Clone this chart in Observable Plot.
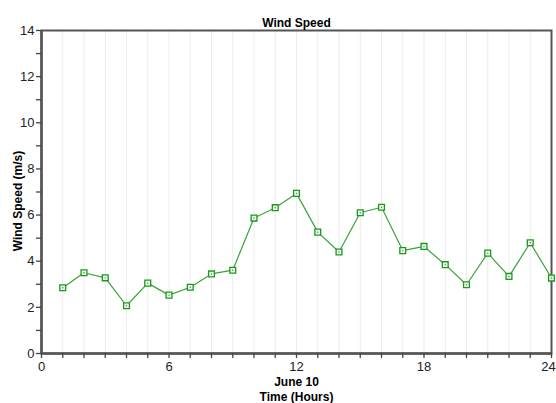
<!DOCTYPE html>
<html><head><meta charset="utf-8">
<script src="https://cdn.jsdelivr.net/npm/d3@7"></script>
<script src="https://cdn.jsdelivr.net/npm/@observablehq/plot@0.6"></script>
<style>body{margin:0;background:#fff} svg{display:block}</style>
</head><body><div id="chart"></div>
<script>
const hours = [1,2,3,4,5,6,7,8,9,10,11,12,13,14,15,16,17,18,19,20,21,22,23,24];
const windSpeed = [2.85,3.5,3.28,2.07,3.05,2.53,2.87,3.45,3.61,5.87,6.32,6.94,5.26,4.4,6.1,6.34,4.46,4.64,3.85,2.98,4.35,3.34,4.8,3.27];
const hourTicks = [0,1,2,3,4,5,6,7,8,9,10,11,12,13,14,15,16,17,18,19,20,21,22,23,24];
const xTickLabels = [0,6,12,18];
const xLastTickLabel = [24];
const yTicksAll = [0,1,2,3,4,5,6,7,8,9,10,11,12,13,14];
const yTickLabels = [0,2,4,6,8,10,12,14];
const titleText = "Wind Speed";
const yLabel = "Wind Speed (m/s)";
const xLabel1 = "June 10";
const xLabel2 = "Time (Hours)";

const data = hours.map((h, i) => ({hour: h, speed: windSpeed[i]}));

const chart = Plot.plot({
  width: 556, height: 403,
  marginTop: 30, marginBottom: 50, marginLeft: 41, marginRight: 5,
  style: {fontFamily: "Arial, 'Liberation Sans', sans-serif", fontSize: "12px", color: "#222", background: "#fff"},
  x: {domain: [0, 24]},
  y: {domain: [0, 14]},
  marks: [
    Plot.ruleX(hourTicks, {stroke: "#ececec", strokeWidth: 1}),
    Plot.frame({stroke: "#555", strokeWidth: 2}),
    Plot.ruleX([0], {stroke: "#555", strokeWidth: 2.5}),
    Plot.ruleY([0], {stroke: "#555", strokeWidth: 2.5}),
    Plot.axisX({ticks: hourTicks, tickSize: 5, stroke: "#444", strokeWidth: 1.3, tickFormat: () => "", label: null}),
    Plot.axisX({ticks: xTickLabels, tickSize: 0, tickPadding: 8, label: null, fontSize: 13}),
    Plot.axisX({ticks: xLastTickLabel, tickSize: 0, tickPadding: 8, dx: -3, label: null, fontSize: 13}),
    Plot.axisY({ticks: yTicksAll, tickSize: 5, tickPadding: 2, stroke: "#444", strokeWidth: 1.3,
      tickFormat: d => yTickLabels.includes(d) ? String(d) : "", label: null, fontSize: 13}),
    Plot.line(data, {x: "hour", y: "speed", stroke: "#3aa33a", strokeWidth: 1.2}),
    Plot.dot(data, {x: "hour", y: "speed", symbol: "square", r: 3.3, stroke: "#1f961f", strokeWidth: 1.3, fill: "#eef8ee"}),
    Plot.dot(data, {x: "hour", y: "speed", r: 0.7, fill: "#1f961f"}),
    Plot.text([titleText], {frameAnchor: "top", lineAnchor: "bottom", dy: -4, fontWeight: "bold", fontSize: 12, fill: "#000"}),
    Plot.text([yLabel], {frameAnchor: "left", textAnchor: "middle", lineAnchor: "middle", dx: -23, dy: 9, rotate: -90, fontWeight: "bold", fontSize: 12, fill: "#000"}),
    Plot.text([xLabel1], {frameAnchor: "bottom", lineAnchor: "middle", dy: 29, fontWeight: "bold", fontSize: 12, fill: "#000"}),
    Plot.text([xLabel2], {frameAnchor: "bottom", lineAnchor: "middle", dy: 44, fontWeight: "bold", fontSize: 12, fill: "#000"})
  ]
});
document.getElementById("chart").appendChild(chart);
</script>
</body></html>
